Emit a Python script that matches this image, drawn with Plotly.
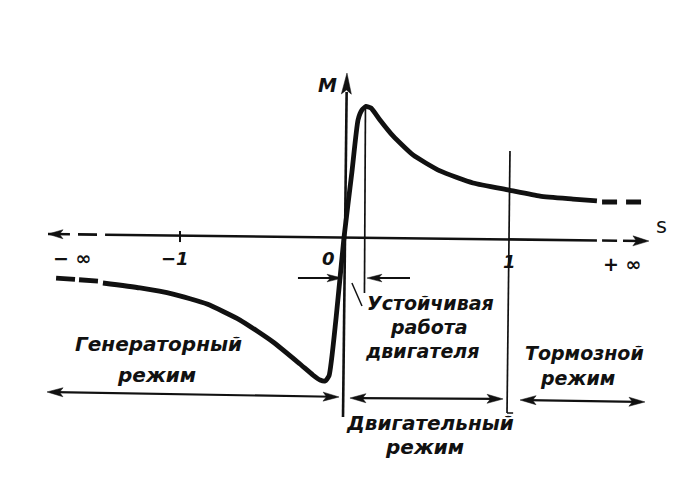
import math
import plotly.graph_objects as go

# ---------------- data (s = slip, M = torque, M_max = 1) -------------
curve_s = [-1.461, -1.236, -1.036, -0.830, -0.630, -0.430, -0.267, -0.188, -0.145, -0.115,
           -0.091, -0.048, 0.000, 0.048, 0.085, 0.109, 0.133, 0.164, 0.218, 0.297,
           0.418, 0.582, 0.782, 1.000, 1.188, 1.388, 1.533]
curve_M = [-0.350, -0.388, -0.435, -0.512, -0.635, -0.804, -0.973, -1.058, -1.096, -1.104,
           -1.065, -0.619, 0.000, 0.504, 0.904, 0.981, 1.008, 0.996, 0.904, 0.781,
           0.635, 0.512, 0.419, 0.365, 0.319, 0.296, 0.281]
# dashed continuations towards s = -inf and s = +inf
tail_left_s = [-1.491, -1.752]
tail_left_M = [-0.335, -0.312]
tail_right_s = [1.564, 1.824]
tail_right_M = [0.273, 0.273]

s_k = 0.13            # critical slip (vertical line through the maximum)
tick_labels = ["− ∞", "−1", "0", "1", "+ ∞"]
tick_pos = [-1.648, -1.024, -0.091, 1.006, 1.685]

# ---------------- geometry of the picture ----------------
W, H = 700, 485
PX_S, PX_M = 165.0, 130.0
S0_PX, M0_PX = 344.0, 237.5
x_range = [(0 - S0_PX) / PX_S, (W - S0_PX) / PX_S]
y_range = [(M0_PX - H) / PX_M, M0_PX / PX_M]
INK = "#111111"
TILT = -0.0148       # the scan is slightly rotated: axis line M offset per unit s

fig = go.Figure()


def seg(s_list, m_list, width, dash=None, smooth=False):
    line = dict(color=INK, width=width, dash=dash)
    if smooth:
        line.update(shape="spline", smoothing=0.5)
    fig.add_trace(go.Scatter(x=s_list, y=m_list, mode="lines", hoverinfo="skip",
                             line=line, showlegend=False))


def head(s1, m1, s2, m2, length=14, half=4.0, notch=3.5):
    """filled barbed arrow head with tip at (s2, m2), pointing from (s1, m1)."""
    x1, y1 = S0_PX + s1 * PX_S, M0_PX - m1 * PX_M
    x2, y2 = S0_PX + s2 * PX_S, M0_PX - m2 * PX_M
    d = math.hypot(x2 - x1, y2 - y1)
    ux, uy = (x2 - x1) / d, (y2 - y1) / d
    nx, ny = -uy, ux
    bx, by = x2 - ux * length, y2 - uy * length
    pts = [(x2, y2), (bx + nx * half, by + ny * half),
           (x2 - ux * (length - notch), y2 - uy * (length - notch)),
           (bx - nx * half, by - ny * half), (x2, y2)]
    xs = [(p[0] - S0_PX) / PX_S for p in pts]
    ys = [(M0_PX - p[1]) / PX_M for p in pts]
    fig.add_trace(go.Scatter(x=xs, y=ys, mode="lines", fill="toself", fillcolor=INK,
                             line=dict(color=INK, width=0.5), hoverinfo="skip", showlegend=False))


def axis_m(s):
    return TILT * s


# s axis: solid middle, dashed ends, arrow at the right and at the left
seg([-1.448, 1.533], [axis_m(-1.448), axis_m(1.533)], 2.6)
for a, b in [(-1.612, -1.497), (-1.794, -1.661), (1.564, 1.655), (1.691, 1.80)]:
    seg([a, b], [axis_m(a), axis_m(b)], 2.6)
head(1.70, axis_m(1.70), 1.848, axis_m(1.848), length=16, half=5.0)
head(-1.70, axis_m(-1.70), -1.794, axis_m(-1.794), length=15, half=4.5)
# tick at s = -1
seg([-0.994, -0.994], [0.05, -0.035], 2.0)

# M axis
seg([-0.006, 0.016], [-1.381, 1.12], 2.6)
head(0.012, 1.0, 0.018, 1.265, length=21, half=5.0, notch=4)

# thin verticals at s_k and s = 1
seg([s_k, s_k - 0.006], [1.0, -0.427], 1.7)
seg([1.006, 0.988], [0.665, -1.35], 1.7)
seg([0.988, 1.025], [-1.35, -1.35], 1.5)

# characteristic
seg(curve_s, curve_M, 4.8, smooth=True)
seg(tail_left_s, tail_left_M, 4.8, dash="19px,4px")
seg(tail_right_s, tail_right_M, 4.8, dash="15px,9px")

# stable operation arrows
seg([-0.279, -0.05], [-0.312, -0.312], 2.0)
head(-0.1, -0.312, -0.012, -0.312, length=15, half=3.8)
seg([0.400, 0.17], [-0.312, -0.312], 2.0)
head(0.25, -0.312, 0.139, -0.312, length=15, half=3.8)
seg([0.048, 0.109], [-0.35, -0.527], 1.5)

# region arrows at the bottom
seg([-1.75, -0.07], [-1.190, -1.225], 2.2)
head(-1.6, -1.193, -1.800, -1.188, length=16, half=4.5)
head(-0.2, -1.222, -0.030, -1.227, length=16, half=4.5)
seg([0.08, 0.92], [-1.236, -1.241], 2.2)
head(0.2, -1.237, 0.036, -1.235, length=16, half=4.5)
head(0.8, -1.240, 0.964, -1.242, length=16, half=4.5)
seg([1.11, 1.78], [-1.251, -1.264], 2.2)
head(1.2, -1.252, 1.067, -1.250, length=16, half=4.5)
head(1.7, -1.263, 1.824, -1.265, length=16, half=4.5)

# ---------------- texts ----------------
FONT = "DejaVu Sans"


def label(txt, s, m, size=20, bold=True, italic=True):
    t = txt
    if italic:
        t = "<i>" + t + "</i>"
    if bold:
        t = "<b>" + t + "</b>"
    fig.add_annotation(x=s, y=m, text=t, showarrow=False, xanchor="center", yanchor="middle",
                       borderpad=0, font=dict(family=FONT, size=size, color=INK))


tick_sizes = [19, 18, 18, 18, 19]
for txt, pos, fs in zip(tick_labels, tick_pos, tick_sizes):
    m = -0.158 if pos < 0.5 else (-0.181 if pos < 1.3 else -0.204)
    label(txt, pos, m, size=fs)
label("M", -0.103, 1.173, size=19)
label("s", 1.927, 0.090, size=21, bold=False, italic=False)

label("Генераторный", -1.127, -0.820, size=20)
label("режим", -1.139, -1.060, size=20)
label("Устойчивая", 0.527, -0.500, size=19)
label("работа", 0.515, -0.688, size=19)
label("двигателя", 0.473, -0.876, size=19)
label("Двигательный", 0.521, -1.430, size=20)
label("режим", 0.485, -1.612, size=20)
label("Тормозной", 1.455, -0.890, size=19)
label("режим", 1.418, -1.078, size=19)

fig.update_layout(
    width=W, height=H, margin=dict(l=0, r=0, t=0, b=0),
    paper_bgcolor="white", plot_bgcolor="white", showlegend=False,
    xaxis=dict(range=x_range, visible=False, fixedrange=True),
    yaxis=dict(range=y_range, visible=False, fixedrange=True),
)
fig.write_html("out.html", config={"displayModeBar": False, "staticPlot": True},
               post_script="document.body.style.margin='0';document.body.style.overflow='hidden';")
